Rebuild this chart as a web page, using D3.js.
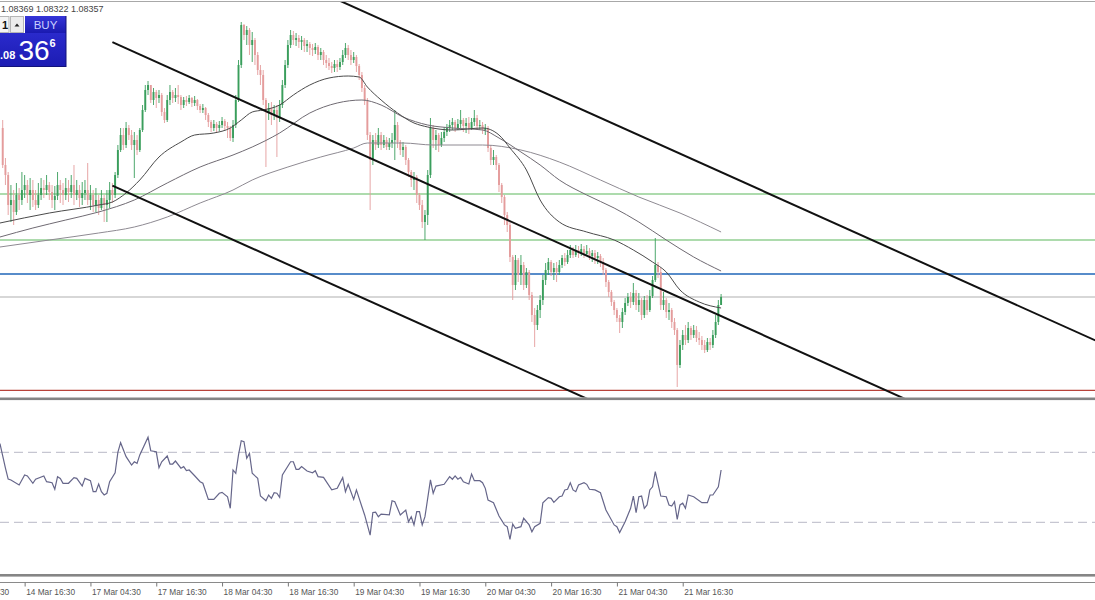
<!DOCTYPE html>
<html><head><meta charset="utf-8">
<script src="https://cdn.jsdelivr.net/npm/d3@7"></script>
<style>html,body{margin:0;padding:0;background:#fff;overflow:hidden}svg{display:block}</style>
</head><body><svg id="c" width="1095" height="600"></svg>
<script>
// ---- data (EURUSD M30) ----
const firstOpen = 1.09205;
const closes = [
1.09020,1.08970,1.08820,1.08845,1.08785,1.08870,1.08845,1.08895,1.08920,1.08870,
1.08895,1.08845,1.08820,1.08870,1.08905,1.08895,1.08920,1.08885,1.08845,1.08865,
1.08920,1.08895,1.08870,1.08905,1.08885,1.08920,1.08870,1.08895,1.08855,1.08880,
1.08895,1.08845,1.08870,1.08820,1.08845,1.08805,1.08855,1.08820,1.08845,1.08895,
1.08870,1.08970,1.09095,1.09170,1.09120,1.09205,1.09170,1.09120,1.09145,1.09095,
1.09195,1.09295,1.09395,1.09420,1.09345,1.09385,1.09355,1.09370,1.09285,1.09245,
1.09345,1.09385,1.09355,1.09370,1.09360,1.09320,1.09345,1.09335,1.09355,1.09330,
1.09345,1.09315,1.09295,1.09305,1.09270,1.09235,1.09205,1.09225,1.09205,1.09220,
1.09240,1.09215,1.09205,1.09155,1.09220,1.09345,1.09520,1.09720,1.09670,1.09695,
1.09620,1.09645,1.09570,1.09495,1.09470,1.09345,1.09285,1.09305,1.09270,1.09295,
1.09255,1.09320,1.09420,1.09520,1.09620,1.09670,1.09645,1.09655,1.09635,1.09645,
1.09615,1.09625,1.09605,1.09595,1.09610,1.09570,1.09585,1.09545,1.09530,1.09515,
1.09505,1.09525,1.09510,1.09535,1.09570,1.09605,1.09570,1.09545,1.09560,1.09515,
1.09470,1.09405,1.09345,1.09170,1.09045,1.09145,1.09120,1.09170,1.09120,1.09145,
1.09110,1.09130,1.09145,1.09220,1.09135,1.09095,1.09110,1.09045,1.08985,1.08945,
1.08960,1.08870,1.08820,1.08735,1.08770,1.08970,1.09205,1.09145,1.09170,1.09120,
1.09155,1.09185,1.09205,1.09220,1.09235,1.09205,1.09225,1.09245,1.09215,1.09230,
1.09205,1.09235,1.09255,1.09215,1.09220,1.09195,1.09205,1.09105,1.09045,1.09060,
1.09020,1.08920,1.08860,1.08770,1.08720,1.08560,1.08420,1.08545,1.08470,1.08520,
1.08420,1.08485,1.08370,1.08270,1.08220,1.08295,1.08345,1.08445,1.08495,1.08535,
1.08485,1.08505,1.08485,1.08520,1.08555,1.08535,1.08570,1.08595,1.08570,1.08595,
1.08580,1.08600,1.08575,1.08590,1.08565,1.08580,1.08555,1.08565,1.08535,1.08495,
1.08435,1.08385,1.08335,1.08295,1.08255,1.08235,1.08285,1.08330,1.08360,1.08335,
1.08380,1.08320,1.08345,1.08270,1.08345,1.08295,1.08365,1.08445,1.08520,1.08485,
1.08320,1.08345,1.08285,1.08295,1.08235,1.08195,1.08020,1.08120,1.08170,1.08145,
1.08205,1.08170,1.08195,1.08155,1.08145,1.08120,1.08095,1.08135,1.08120,1.08170,
1.08235,1.08320,1.08360];
const highs = [
1.09245,1.09055,1.08985,1.08920,1.08895,1.08930,1.08905,1.08985,1.08970,1.08945,
1.08955,1.08945,1.08895,1.08930,1.08955,1.08945,1.08970,1.08935,1.08920,1.08915,
1.08985,1.08945,1.08930,1.08955,1.08945,1.08970,1.09020,1.08945,1.08920,1.08935,
1.08945,1.09030,1.08920,1.08895,1.08905,1.08870,1.08895,1.08870,1.08895,1.08935,
1.08930,1.08985,1.09120,1.09205,1.09205,1.09235,1.09220,1.09195,1.09185,1.09170,
1.09205,1.09320,1.09420,1.09440,1.09420,1.09405,1.09395,1.09395,1.09380,1.09305,
1.09370,1.09420,1.09395,1.09405,1.09420,1.09370,1.09360,1.09365,1.09370,1.09360,
1.09365,1.09350,1.09325,1.09325,1.09310,1.09280,1.09245,1.09245,1.09235,1.09240,
1.09260,1.09250,1.09235,1.09215,1.09245,1.09370,1.09545,1.09735,1.09725,1.09715,
1.09705,1.09685,1.09655,1.09585,1.09520,1.09495,1.09355,1.09330,1.09335,1.09320,
1.09320,1.09345,1.09445,1.09545,1.09645,1.09695,1.09690,1.09680,1.09670,1.09665,
1.09655,1.09645,1.09635,1.09625,1.09630,1.09620,1.09605,1.09595,1.09570,1.09555,
1.09535,1.09545,1.09545,1.09555,1.09595,1.09630,1.09620,1.09595,1.09585,1.09570,
1.09525,1.09485,1.09420,1.09355,1.09185,1.09170,1.09180,1.09205,1.09185,1.09170,
1.09160,1.09155,1.09180,1.09295,1.09235,1.09145,1.09135,1.09120,1.09055,1.08995,
1.08985,1.08970,1.08880,1.08845,1.08795,1.08995,1.09255,1.09220,1.09195,1.09180,
1.09185,1.09210,1.09225,1.09245,1.09255,1.09245,1.09250,1.09295,1.09255,1.09255,
1.09260,1.09255,1.09295,1.09270,1.09245,1.09235,1.09225,1.09215,1.09120,1.09095,
1.09070,1.09030,1.08930,1.08870,1.08785,1.08735,1.08570,1.08570,1.08555,1.08570,
1.08535,1.08505,1.08495,1.08385,1.08305,1.08320,1.08370,1.08470,1.08530,1.08555,
1.08545,1.08530,1.08535,1.08545,1.08570,1.08580,1.08595,1.08620,1.08610,1.08620,
1.08615,1.08625,1.08615,1.08620,1.08605,1.08595,1.08595,1.08585,1.08575,1.08555,
1.08505,1.08445,1.08395,1.08345,1.08305,1.08270,1.08305,1.08355,1.08380,1.08385,
1.08430,1.08395,1.08380,1.08355,1.08365,1.08370,1.08395,1.08465,1.08655,1.08535,
1.08505,1.08385,1.08355,1.08330,1.08305,1.08255,1.08205,1.08145,1.08195,1.08220,
1.08235,1.08215,1.08220,1.08215,1.08185,1.08165,1.08145,1.08155,1.08155,1.08195,
1.08270,1.08345,1.08375];
const lows = [
1.09005,1.08920,1.08770,1.08735,1.08720,1.08770,1.08795,1.08820,1.08855,1.08830,
1.08795,1.08810,1.08795,1.08805,1.08845,1.08855,1.08870,1.08845,1.08805,1.08795,
1.08845,1.08830,1.08820,1.08845,1.08835,1.08855,1.08820,1.08845,1.08810,1.08820,
1.08845,1.08820,1.08795,1.08785,1.08785,1.08770,1.08795,1.08735,1.08735,1.08805,
1.08830,1.08855,1.08955,1.09085,1.09095,1.09105,1.09145,1.09095,1.08955,1.09070,
1.09085,1.09185,1.09285,1.09370,1.09330,1.09320,1.09305,1.09330,1.09265,1.09230,
1.09235,1.09320,1.09330,1.09335,1.09325,1.09295,1.09305,1.09315,1.09325,1.09310,
1.09315,1.09295,1.09280,1.09280,1.09245,1.09210,1.09185,1.09190,1.09180,1.09190,
1.09205,1.09195,1.09155,1.09140,1.09135,1.09205,1.09335,1.09505,1.09645,1.09620,
1.09570,1.09535,1.09520,1.09470,1.09420,1.09320,1.09010,1.09245,1.09220,1.09245,
1.09060,1.09235,1.09305,1.09405,1.09505,1.09605,1.09620,1.09615,1.09605,1.09595,
1.09585,1.09585,1.09570,1.09565,1.09575,1.09545,1.09545,1.09520,1.09505,1.09495,
1.09480,1.09485,1.09485,1.09495,1.09520,1.09555,1.09545,1.09520,1.09530,1.09485,
1.09445,1.09385,1.09320,1.09145,1.08795,1.09020,1.09095,1.09105,1.09095,1.09105,
1.09095,1.09095,1.09105,1.09045,1.09105,1.09070,1.09060,1.09020,1.08960,1.08910,
1.08895,1.08830,1.08795,1.08705,1.08645,1.08720,1.08955,1.09105,1.09095,1.09085,
1.09110,1.09135,1.09165,1.09185,1.09195,1.09185,1.09195,1.09205,1.09185,1.09180,
1.09175,1.09195,1.09215,1.09195,1.09195,1.09175,1.09170,1.09085,1.09020,1.09020,
1.08995,1.08885,1.08830,1.08720,1.08685,1.08535,1.08345,1.08395,1.08435,1.08420,
1.08395,1.08405,1.08345,1.08235,1.08110,1.08195,1.08255,1.08320,1.08420,1.08470,
1.08465,1.08445,1.08435,1.08470,1.08505,1.08515,1.08525,1.08555,1.08555,1.08560,
1.08555,1.08565,1.08555,1.08565,1.08545,1.08535,1.08525,1.08525,1.08510,1.08470,
1.08410,1.08360,1.08315,1.08270,1.08235,1.08180,1.08205,1.08270,1.08315,1.08305,
1.08320,1.08295,1.08285,1.08245,1.08255,1.08270,1.08285,1.08355,1.08435,1.08455,
1.08295,1.08295,1.08255,1.08245,1.08205,1.08170,1.07910,1.08005,1.08095,1.08120,
1.08130,1.08145,1.08155,1.08135,1.08120,1.08095,1.08080,1.08085,1.08095,1.08105,
1.08155,1.08220,1.08320];

// moving averages, read as [bar, price]
const maFast = [[-1,1.08730],[17,1.08780],[35,1.08820],[40,1.08835],[45,1.08880],[50,1.08945],[57,1.09060],[65,1.09135],[70,1.09170],[77,1.09180],[83,1.09205],[87,1.09245],[91,1.09285],[95,1.09295],[101,1.09320],[106,1.09370],[112,1.09420],[119,1.09455],[126,1.09465],[130,1.09460],[133,1.09410],[138,1.09345],[144,1.09280],[150,1.09230],[155,1.09210],[164,1.09195],[175,1.09205],[181,1.09170],[185,1.09105],[191,1.08995],[196,1.08845],[203,1.08735],[213,1.08685],[223,1.08645],[230,1.08595],[237,1.08535],[242,1.08485],[247,1.08395],[254,1.08335],[262,1.08305]];
const maMid = [[-1,1.08660],[11,1.08705],[23,1.08745],[35,1.08785],[48,1.08845],[60,1.08930],[72,1.09010],[84,1.09070],[91,1.09110],[101,1.09180],[112,1.09280],[122,1.09330],[131,1.09345],[138,1.09320],[146,1.09260],[155,1.09220],[164,1.09205],[175,1.09195],[181,1.09155],[189,1.09085],[196,1.09020],[203,1.08945],[213,1.08870],[223,1.08805],[232,1.08735],[242,1.08645],[252,1.08560],[262,1.08490]];
const maSlow = [[-1,1.08610],[17,1.08645],[35,1.08680],[48,1.08710],[60,1.08760],[72,1.08830],[84,1.08895],[91,1.08945],[104,1.09010],[116,1.09060],[128,1.09105],[133,1.09130],[146,1.09130],[157,1.09120],[175,1.09120],[189,1.09095],[203,1.09035],[218,1.08945],[232,1.08860],[247,1.08780],[262,1.08685]];

// RSI, read as [bar, value]
const rsi = [[-1,75],[0,68],[1,61],[2,54.7],[3,54.2],[6,51.3],[8,57],[9,56.5],[11,52.3],[12,54.6],[15,56.5],[16,53.2],[18,52.6],[19,48.9],[20,56.1],[21,55.1],[22,52.3],[24,52.3],[26,55.5],[27,55.1],[29,50.7],[30,55.1],[32,53.8],[33,47.5],[34,47.5],[35,51.9],[36,47.5],[37,45.6],[38,46.6],[39,53.2],[41,58.3],[42,70],[43,75.5],[45,67.5],[47,62.7],[48,64.6],[49,63.7],[50,68.5],[53,78.6],[54,70.9],[56,70.3],[57,61.2],[58,64.6],[60,67.9],[61,63.3],[62,63.3],[63,65],[65,60.9],[66,61.8],[67,59.5],[68,59.9],[70,56.6],[72,53.2],[73,52.3],[75,43.1],[77,43.1],[79,46.6],[80,47.1],[82,44.6],[83,38],[84,59.9],[85,58],[86,68.5],[87,76.6],[88,76.1],[89,66.6],[90,69.4],[91,58],[93,55.1],[94,45],[96,42.3],[97,45.6],[98,43.7],[99,46.9],[100,46.6],[101,44.3],[102,57],[105,64.6],[106,64.6],[107,60.3],[108,60.3],[109,61.8],[111,59.3],[113,58.3],[114,59.5],[115,56.1],[117,55.7],[120,48.5],[122,49.4],[124,55.5],[125,47.5],[126,51.7],[128,43.1],[129,48.5],[131,38.9],[132,34.2],[134,22.7],[135,35.6],[136,35.8],[137,33.2],[138,34.7],[141,34.2],[142,42.3],[143,41.8],[145,34.2],[147,37],[148,30.3],[149,33.2],[150,28.5],[151,36.1],[152,36.1],[153,28.5],[154,33.2],[156,54.2],[157,46.6],[158,50.7],[161,51.7],[163,56.1],[164,54.6],[165,56.5],[166,54.6],[167,55.7],[168,53.2],[170,51.9],[171,57.6],[172,53.8],[174,53.8],[175,52.6],[176,49.4],[177,42.7],[179,41.2],[181,33.6],[183,28.5],[184,27.5],[185,20.3],[186,29],[187,26.6],[189,27.5],[190,32.3],[192,28.5],[193,24.6],[194,27.5],[196,29.4],[197,41.2],[199,44.1],[200,43.7],[201,41.4],[203,44.6],[204,45],[205,48.5],[206,48.9],[207,52.6],[208,48.5],[209,47.5],[210,51.3],[212,52.6],[213,51.7],[214,48.9],[216,48.5],[218,46.9],[220,37],[223,28.5],[224,27.5],[225,24.1],[227,30.3],[228,34.2],[229,38],[230,45],[231,35.5],[232,44.6],[233,45],[234,38],[235,39.9],[236,48.5],[237,50.3],[238,58.9],[240,45],[242,44.6],[243,39.9],[244,39.3],[245,41.8],[246,31.7],[247,39.9],[248,40.9],[249,38],[250,45.6],[252,44.6],[255,41.2],[257,41.2],[258,45.6],[259,45.6],[261,50.3],[262,59.9]];
const rsiLevels = [30, 70];

// horizontal objects and channel lines
const levelPrices = [1.08875, 1.08645, 1.08475, 1.08360, 1.07893];
const levelColors = ["#5cb85c", "#5cb85c", "#1f66b8", "#b0b0b0", "#b8433a"];
const trendlines = [[122, 1.09847, 398, 1.08146], [40, 1.09634, 328, 1.07857], [40, 1.08917, 212, 1.07858]];

// time axis
const tickBars = [-16, 8, 32, 56, 80, 104, 128, 152, 176, 200, 224, 248];
const tickLabels = ["14 Mar 04:30","14 Mar 16:30","17 Mar 04:30","17 Mar 16:30","18 Mar 04:30","18 Mar 16:30","19 Mar 04:30","19 Mar 16:30","20 Mar 04:30","20 Mar 16:30","21 Mar 04:30","21 Mar 16:30"];

const headerText = "1.08369 1.08322 1.08357";
const quoteSmall = ".08", quoteBig = "36", quotePip = "6";

// ---- drawing ----
const W = 1095;
const svg = d3.select("#c");
const x = d3.scaleLinear().domain([0, 262]).range([2.7, 721.1]);
const y = d3.scaleLinear().domain([1.07855, 1.09845]).range([398, 0]);
const yr = d3.scaleLinear().domain([0, 100]).range([574.8, 399.8]);
const FONT = "'Liberation Sans', Arial, sans-serif";

const defs = svg.append("defs");
defs.append("clipPath").attr("id", "cm").append("rect").attr("x", 0).attr("y", 2).attr("width", W).attr("height", 395.5);
defs.append("clipPath").attr("id", "cr").append("rect").attr("x", 0).attr("y", 401).attr("width", W).attr("height", 173);

svg.append("rect").attr("width", W).attr("height", 600).attr("fill", "#fff");

const main = svg.append("g").attr("clip-path", "url(#cm)");

// horizontal levels
main.selectAll("line.lvl").data(levelPrices).join("line").attr("class", "lvl")
  .attr("x1", 0).attr("x2", W)
  .attr("y1", d => y(d)).attr("y2", d => y(d))
  .attr("stroke", (d, i) => levelColors[i])
  .attr("stroke-width", (d, i) => i === 2 ? 1.5 : 1.1);

// candles
const bars = closes.map((c, i) => {
  const o = i ? closes[i - 1] : firstOpen;
  return { i, o, c, h: Math.max(highs[i], o, c), l: Math.min(lows[i], o, c) };
});
const up = "#3a9e5c", dn = "#e49c9c";
const cg = main.append("g");
cg.selectAll("line").data(bars).join("line")
  .attr("x1", d => x(d.i)).attr("x2", d => x(d.i))
  .attr("y1", d => y(d.h)).attr("y2", d => y(d.l))
  .attr("stroke", d => d.c >= d.o ? up : dn).attr("stroke-width", 0.9);
cg.selectAll("rect").data(bars).join("rect")
  .attr("x", d => x(d.i) - 0.95).attr("width", 1.9)
  .attr("y", d => Math.min(y(d.o), y(d.c)))
  .attr("height", d => Math.max(1, Math.abs(y(d.o) - y(d.c))))
  .attr("fill", d => d.c >= d.o ? up : dn);

// moving averages
const maLine = d3.line().x(d => x(d[0])).y(d => y(d[1])).curve(d3.curveMonotoneX);
[[maSlow, "#8e8a92"], [maMid, "#6f6a72"], [maFast, "#4a4a4a"]].forEach(([data, col]) => {
  main.append("path").attr("d", maLine(data)).attr("fill", "none").attr("stroke", col).attr("stroke-width", 1);
});

// channel lines (rays to the right)
main.selectAll("line.tl").data(trendlines).join("line").attr("class", "tl")
  .attr("x1", d => x(d[0])).attr("y1", d => y(d[1]))
  .attr("x2", d => x(d[0] + (d[2] - d[0]) * 3)).attr("y2", d => y(d[1] + (d[3] - d[1]) * 3))
  .attr("stroke", "#111").attr("stroke-width", 2);

// frame lines
svg.append("line").attr("x1", 0).attr("x2", W).attr("y1", 1.5).attr("y2", 1.5).attr("stroke", "#a8a8a8").attr("stroke-width", 1);
svg.append("rect").attr("x", 0).attr("y", 397.5).attr("width", W).attr("height", 2.6).attr("fill", "#858585");
svg.append("rect").attr("x", 0).attr("y", 574).attr("width", W).attr("height", 2.6).attr("fill", "#858585");

// RSI window
const rw = svg.append("g").attr("clip-path", "url(#cr)");
rw.selectAll("line.rl").data(rsiLevels).join("line").attr("class", "rl")
  .attr("x1", 0).attr("x2", W).attr("y1", d => yr(d)).attr("y2", d => yr(d))
  .attr("stroke", "#b8b8c6").attr("stroke-width", 1).attr("stroke-dasharray", "9,5");
rw.append("path").attr("d", d3.line().x(d => x(d[0])).y(d => yr(d[1]))(rsi))
  .attr("fill", "none").attr("stroke", "#66668a").attr("stroke-width", 1.2);

// time axis
const axisG = svg.append("g").attr("transform", "translate(0,582.5)");
const xt = d3.axisBottom(x).tickValues(tickBars).tickFormat((d, i) => tickLabels[i]).tickSize(4).tickSizeOuter(0);
axisG.call(xt);
axisG.select(".domain").attr("d", `M0,0H${W}`).attr("stroke", "#8a8a8a");
axisG.selectAll(".tick line").attr("stroke", "#777");
axisG.selectAll(".tick text").attr("text-anchor", "start").attr("x", 1).attr("y", 6.5).attr("dy", "0.71em")
  .attr("fill", "#555").style("font-family", FONT).style("font-size", "8.3px");

// header text
svg.append("text").attr("x", 1).attr("y", 11.5).text(headerText)
  .attr("fill", "#444").style("font-family", FONT).style("font-size", "9px");

// one-click trading panel
const p = svg.append("g");
const grad = defs.append("linearGradient").attr("id", "gb").attr("x1", 0).attr("y1", 0).attr("x2", 0).attr("y2", 1);
grad.append("stop").attr("offset", 0).attr("stop-color", "#3535d8");
grad.append("stop").attr("offset", 1).attr("stop-color", "#1a1ab0");
const grad2 = defs.append("linearGradient").attr("id", "gb2").attr("x1", 0).attr("y1", 0).attr("x2", 0).attr("y2", 1);
grad2.append("stop").attr("offset", 0).attr("stop-color", "#2a2acc");
grad2.append("stop").attr("offset", 1).attr("stop-color", "#1c1cb2");
p.append("rect").attr("x", -1).attr("y", 16.5).attr("width", 10).attr("height", 16).attr("fill", "#f4f4f4").attr("stroke", "#b5b5b5");
p.append("text").attr("x", 2).attr("y", 28.5).text("1").attr("fill", "#111").style("font-family", FONT).style("font-size", "11px").style("font-weight", "bold");
p.append("rect").attr("x", 10.5).attr("y", 16.5).attr("width", 13).attr("height", 16).attr("fill", "#ececec").attr("stroke", "#b5b5b5");
p.append("path").attr("d", "M14.5,26.5 L17,23.5 L19.5,26.5 Z").attr("fill", "#222");
p.append("rect").attr("x", 25).attr("y", 16).attr("width", 41).attr("height", 17).attr("fill", "url(#gb)");
p.append("text").attr("x", 45.5).attr("y", 29).attr("text-anchor", "middle").text("BUY")
  .attr("fill", "#c9cfff").style("font-family", FONT).style("font-size", "11.5px");
p.append("rect").attr("x", 0).attr("y", 33).attr("width", 66).attr("height", 34).attr("fill", "url(#gb2)");
p.append("line").attr("x1", 66).attr("x2", 66).attr("y1", 16).attr("y2", 67).attr("stroke", "#12127a").attr("stroke-width", 1);
p.append("line").attr("x1", 0).attr("x2", 66).attr("y1", 66.5).attr("y2", 66.5).attr("stroke", "#12127a").attr("stroke-width", 1);
p.append("text").attr("x", 0).attr("y", 59).text(quoteSmall)
  .attr("fill", "#fff").style("font-family", FONT).style("font-size", "11px").style("font-weight", "bold");
p.append("text").attr("x", 18.5).attr("y", 59.5).text(quoteBig)
  .attr("fill", "#fff").style("font-family", FONT).style("font-size", "28px");
p.append("text").attr("x", 49.5).attr("y", 47).text(quotePip)
  .attr("fill", "#fff").style("font-family", FONT).style("font-size", "11px").style("font-weight", "bold");
</script>
</body></html>
